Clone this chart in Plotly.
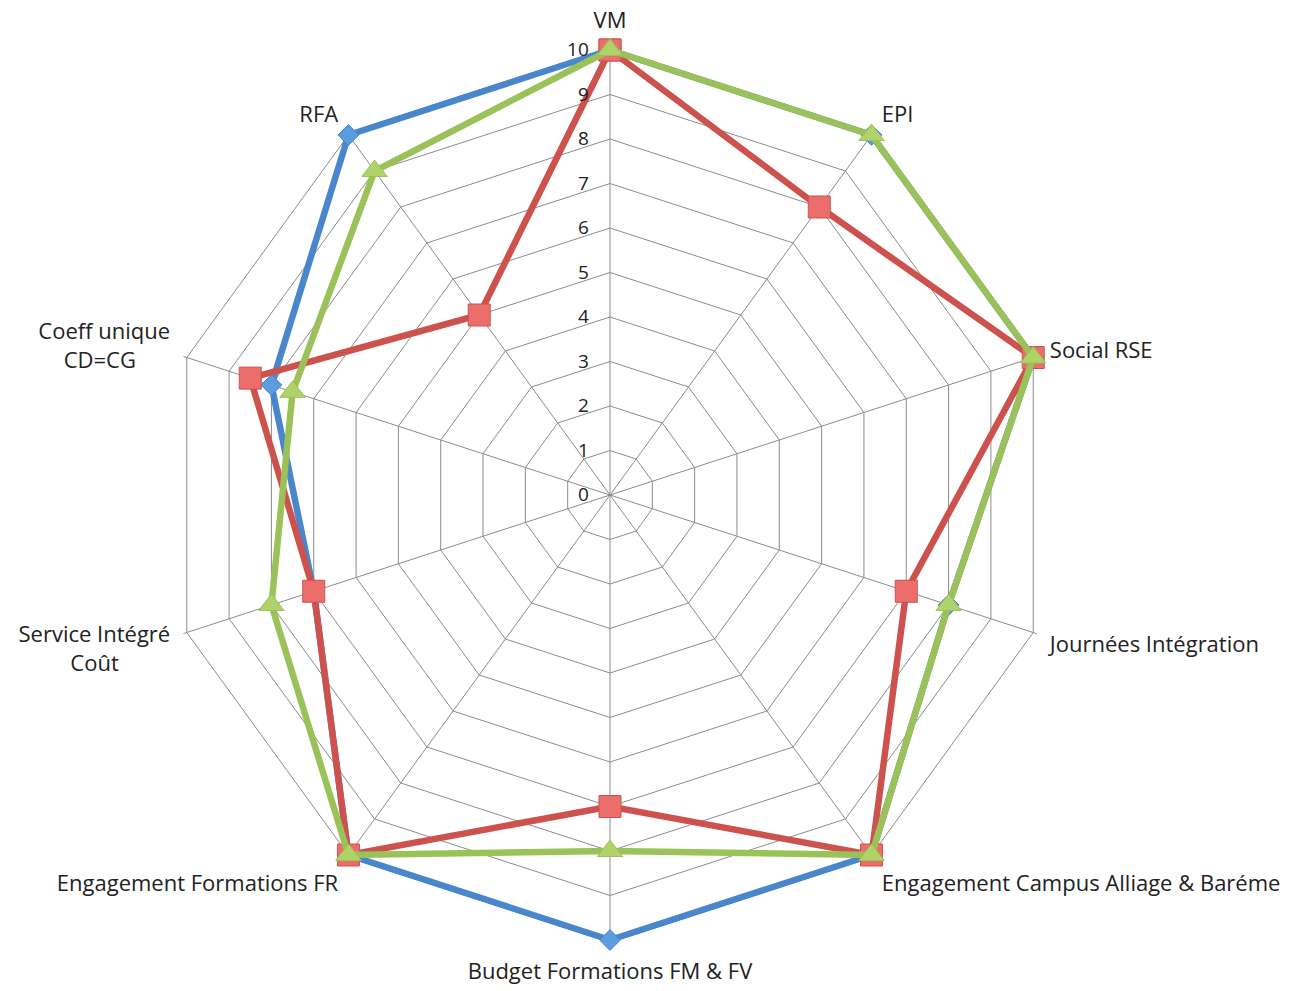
import plotly.graph_objects as go

categories = ["VM", "EPI", "Social RSE", "Journées Intégration",
              "Engagement Campus Alliage & Baréme", "Budget Formations FM & FV",
              "Engagement Formations FR", "Service Intégré Coût",
              "Coeff unique CD=CG", "RFA"]
category_labels = ["VM", "EPI", "Social RSE", "Journées Intégration",
                   "Engagement Campus Alliage & Baréme", "Budget Formations FM & FV",
                   "Engagement Formations FR",
                   "Service Intégré<br>Coût" + "\u00a0" * 9,
                   "Coeff unique<br>CD=CG" + "\u00a0" * 6, "RFA"]
series_blue = [10, 10, 10, 8, 10, 10, 10, 7, 8, 10]
series_red = [10, 8, 10, 7, 10, 7, 10, 7, 8.5, 5]
series_green = [10, 10, 10, 8, 10, 8, 10, 8, 7.5, 9]
radial_ticks = list(range(0, 11))
r_max = 10.08

def closed(v):
    return list(v) + [v[0]]

fig = go.Figure()
styles = [
    (series_blue, "#4A86CC", "#5B9BE0", "diamond", 16),
    (series_red, "#CD524E", "#EC6E6C", "square", 22),
    (series_green, "#9BC258", "#AFD36A", "triangle-up", 22),
]
for vals, lc, mc, sym, sz in styles:
    fig.add_trace(go.Scatterpolar(
        r=closed(vals), theta=closed(categories), mode="lines+markers",
        line=dict(color=lc, width=6.5),
        marker=dict(symbol=sym, size=sz, color=mc, line=dict(color=lc, width=1)),
        showlegend=False, cliponaxis=False,
    ))

W, H = 1295, 991
cx, cy, R10 = 610, 495, 445
R = R10 * r_max / 10
fig.update_layout(
    width=W, height=H,
    margin=dict(l=0, r=0, t=0, b=0),
    paper_bgcolor="white",
    font=dict(family="Open Sans, sans-serif", color="#222222"),
    polar=dict(
        domain=dict(x=[(cx - R) / W, (cx + R) / W],
                    y=[(H - cy - R) / H, (H - cy + R) / H]),
        bgcolor="white",
        gridshape="linear",
        angularaxis=dict(rotation=90, direction="clockwise",
                         showline=False,
                         gridcolor="#8c8c8c", gridwidth=1.2,
                         tickmode="array", tickvals=categories,
                         ticktext=category_labels,
                         ticks="outside", ticklen=9, tickcolor="rgba(0,0,0,0)",
                         tickfont=dict(size=22, color="#222222")),
        radialaxis=dict(range=[0, r_max], tickvals=radial_ticks, angle=90,
                        side="counterclockwise", showline=False,
                        ticks="outside", ticklen=14, tickcolor="rgba(0,0,0,0)",
                        gridcolor="#8c8c8c", gridwidth=1.2,
                        tickfont=dict(size=19, color="#222222"), tickangle=90),
    ),
)
fig.write_html("out.html")
